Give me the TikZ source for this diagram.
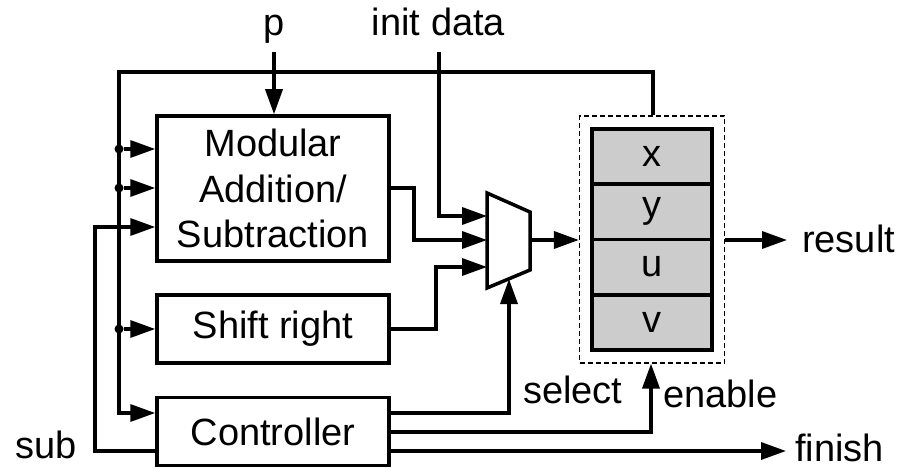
\documentclass[tikz,border=0pt]{standalone}
\usepackage{fontspec}
\setmainfont{Liberation Sans}
\usetikzlibrary{arrows.meta}

\tikzset{
  wire/.style={line width=3.5pt},
  sig/.style={wire, -{Triangle[length=25pt,width=17pt]}},
  blk/.style={draw, line width=3.5pt, inner sep=0pt, align=center},
  regcell/.style={draw, line width=3.5pt, fill=black!20, inner sep=0pt,
    minimum width=120pt, minimum height=55.25pt},
  regframe/.style={draw, line width=1.2pt, dash pattern=on 5pt off 3pt,
    inner sep=0pt, minimum width=145pt, minimum height=247pt},
  lbl/.style={inner sep=0pt},
  tap/.style={circle, fill, inner sep=0pt, minimum size=9pt},
}

\begin{document}
\begin{tikzpicture}[x=1pt, y=-1pt, font=\fontsize{38}{45.6}\selectfont]
\useasboundingbox (0,0) rectangle (901,468);

% functional blocks
\node[blk, minimum width=232pt, minimum height=145pt] (mod) at (273,188.5)
  {Modular\\Addition/\\Subtraction};
\node[blk, minimum width=232pt, minimum height=68pt] (shr) at (273,329) {Shift right};
\node[blk, minimum width=232pt, minimum height=68pt] (ctl) at (273,431.5) {Controller};

% register file
\node[regframe] (regs) at (652,239.5) {};
\node[regcell] (rx) at (652,156.6) {x};
\node[regcell] (ry) at (652,211.9) {y};
\node[regcell] (ru) at (652,267.1) {u};
\node[regcell] (rv) at (652,322.4) {v};

% multiplexer
\draw[line width=3.5pt, line join=miter] (487,193) -- (530,212) -- (530,270) -- (487,288) -- cycle;
\coordinate (muxA) at (487,216);
\coordinate (muxB) at (487,240);
\coordinate (muxC) at (487,267);
\coordinate (muxO) at (530,240);
\coordinate (muxS) at (509,279);

% labels
\node[lbl, anchor=base] (p) at (274,36) {p};
\node[lbl, anchor=base] (init) at (438.5,36) {init data};
\node[lbl, anchor=base west] (res) at (802,252) {result};
\node[lbl, anchor=base west] (fin) at (795,461) {finish};
\node[lbl, anchor=base west] (sel) at (523,403) {select};
\node[lbl, anchor=base west] (ena) at (663,407) {enable};
\node[lbl, anchor=base west] (sub) at (15,458) {sub};

% bus taps
\coordinate (busTop) at (119,72);
\node[tap] (t1) at (119,149) {};
\node[tap] (t2) at (119,188) {};
\node[tap] (t3) at (119,329) {};

% inputs
\draw[sig] (274,52) -- (mod.north -| 274,0);
\draw[sig] (439,52) |- (muxA);

% feedback from the register file to the blocks
\draw[sig] (regs.north -| 653,0) |- (busTop) |- (ctl.west |- 0,413);
\draw[sig] (t1) -- (mod.west |- t1);
\draw[sig] (t2) -- (mod.west |- t2);
\draw[sig] (t3) -- (shr.west |- t3);

% sub signal from the controller
\draw[sig] (ctl.west |- 0,451) -| (95,227) -- (mod.west |- 0,227);

% datapath into the multiplexer
\draw[sig] (mod.east |- 0,188) -| (414,240) -- (muxB);
\draw[sig] (shr.east) -| (436,267) -- (muxC);
\draw[sig] (muxO) -- (regs.west |- muxO);
\draw[sig] (regs.east |- muxO) -- (787,240);

% controller outputs
\draw[sig] (ctl.east |- 0,413) -| (muxS);
\draw[sig] (ctl.east |- 0,432) -| (regs.south -| 651,0);
\draw[sig] (ctl.east |- 0,451) -- (786,451);
\end{tikzpicture}
\end{document}
